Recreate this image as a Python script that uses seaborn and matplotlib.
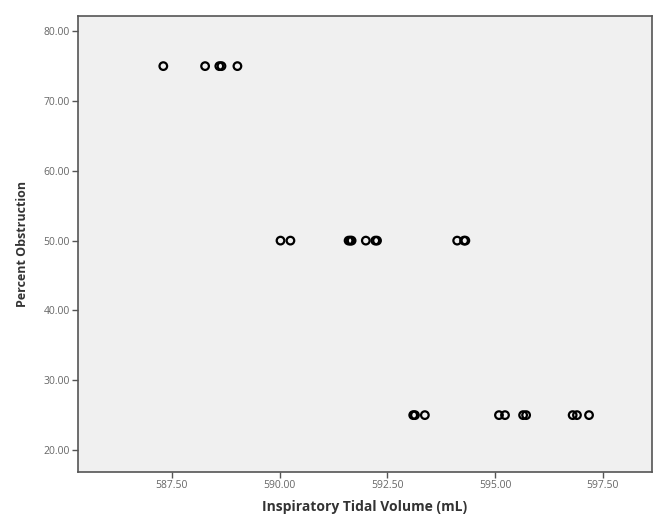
import matplotlib
matplotlib.use("Agg")
import matplotlib.pyplot as plt
import seaborn as sns
import pandas as pd

# Data
vol_75 = [587.30, 588.27, 588.60, 588.65, 589.02]
vol_50 = [590.02, 590.25, 591.60, 591.64, 591.67, 592.00, 592.22, 592.26, 594.12, 594.28, 594.31]
vol_25 = [593.10, 593.14, 593.37, 595.09, 595.23, 595.65, 595.72, 596.80, 596.90, 597.18]
obstruction_levels = [75.0, 50.0, 25.0]

x_ticks = [587.5, 590.0, 592.5, 595.0, 597.5]
y_ticks = [20, 30, 40, 50, 60, 70, 80]

rows = []
for lvl, vols in zip(obstruction_levels, [vol_75, vol_50, vol_25]):
    for v in vols:
        rows.append({"volume": v, "obstruction": lvl})
df = pd.DataFrame(rows)

sns.set_style("white")
plt.rcParams['font.family'] = ['Open Sans', 'DejaVu Sans']

fig = plt.figure(figsize=(6.62, 5.23), dpi=100)
ax = fig.add_axes([0.1178, 0.0975, 0.867, 0.8715])
ax.set_facecolor("#f0f0f0")

sns.scatterplot(data=df, x="volume", y="obstruction", ax=ax, marker="o", s=30,
                facecolor="none", edgecolor="black", linewidth=1.6, legend=False)

ax.set_xlim(585.32, 598.64)
ax.set_ylim(16.85, 82.15)
ax.set_xticks(x_ticks)
ax.set_xticklabels([f"{t:.2f}" for t in x_ticks])
ax.set_yticks(y_ticks)
ax.set_yticklabels([f"{t:.2f}" for t in y_ticks])

for s in ax.spines.values():
    s.set_color("#555555")
    s.set_linewidth(1.2)

ax.tick_params(axis="both", direction="out", length=4, width=1, color="#555555",
               labelsize=7.5, labelcolor="#666666", left=True, bottom=True, pad=2)

ax.set_xlabel("Inspiratory Tidal Volume (mL)", fontsize=10, fontweight="bold", color="#333333", labelpad=6)
ax.set_ylabel("Percent Obstruction", fontsize=9, fontweight="bold", color="#333333")
ax.yaxis.set_label_coords(-0.085, 0.5)

fig.savefig("out.png", dpi=100, facecolor="white")
